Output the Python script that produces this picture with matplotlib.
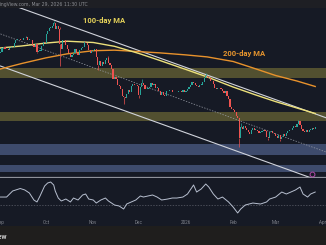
import numpy as np
import pandas as pd
import matplotlib
matplotlib.use("Agg")
import matplotlib.pyplot as plt
import matplotlib.dates as mdates
from matplotlib.patches import Rectangle

plt.rcParams['font.family'] = ['Roboto', 'DejaVu Sans']

# BTC/USD daily closes, thousands of USD
close_sep = [109.2, 111.2, 111.7, 110.7, 110.6, 110.2, 111.1, 112.0, 111.5, 113.9,
             115.5, 116.0, 115.9, 115.3, 115.4, 116.8, 116.5, 117.1, 115.7, 115.7,
             115.3, 112.7, 112.0, 113.3, 109.0, 109.7, 109.7, 112.2, 114.3, 114.0]
close_oct = [118.6, 120.6, 122.3, 122.4, 123.5, 124.8, 121.4, 123.3, 121.7, 113.2,
             110.6, 115.3, 115.3, 113.1, 110.8, 108.2, 106.5, 107.2, 108.6, 110.6,
             108.4, 107.6, 110.1, 111.0, 111.6, 114.5, 114.1, 112.9, 110.1, 108.3, 109.6]
close_nov = [110.1, 110.6, 106.5, 101.6, 103.9, 101.3, 103.4, 102.3, 104.7, 105.9,
             103.1, 101.6, 99.7, 94.4, 95.5, 94.2, 91.0, 90.5, 88.5, 85.0,
             84.5, 84.0, 86.0, 88.3, 87.3, 90.5, 91.3, 90.9, 90.8, 90.4]
close_dec = [85.5, 90.0, 92.0, 91.0, 88.5, 88.5, 89.5, 90.0, 92.0, 91.0,
             91.5, 89.5, 89.5, 87.5, 85.5, 87.0, 85.5, 85.0, 87.5, 87.5,
             88.0, 88.0, 87.0, 87.0, 86.8, 87.0, 87.5, 87.5, 86.8, 88.0, 87.2]
close_jan = [87.5, 88.5, 90.0, 91.0, 92.5, 92.0, 91.0, 90.5, 90.0, 91.0,
             91.0, 92.5, 95.0, 96.0, 95.5, 94.5, 93.0, 93.0, 91.5, 89.0,
             88.5, 89.5, 89.0, 88.5, 87.5, 86.5, 87.5, 85.0, 83.0, 79.0, 77.5]
close_feb = [77.0, 76.0, 74.0, 73.0, 62.0, 68.0, 67.0, 68.5, 67.5, 66.0,
             65.0, 64.0, 66.5, 67.5, 66.5, 66.5, 65.5, 64.5, 65.0, 65.5,
             66.0, 65.5, 62.5, 62.0, 65.0, 65.5, 64.5, 64.0]
close_mar = [63.0, 62.0, 63.5, 61.5, 62.5, 64.0, 63.0, 64.5, 65.5, 66.5,
             66.0, 67.5, 68.5, 68.0, 69.5, 71.0, 69.0, 67.0, 65.5, 65.0,
             66.0, 65.0, 66.5, 66.5, 67.5, 67.0, 67.8]
first_open = 108.3

wick_high = {"2025-09-18": 117.9, "2025-10-06": 126.2, "2025-10-10": 122.5,
             "2025-11-11": 107.0, "2025-12-03": 94.0, "2026-01-14": 97.5,
             "2026-02-06": 70.0, "2026-03-16": 72.0}
wick_low = {"2025-09-25": 108.5, "2025-10-10": 101.5, "2025-11-04": 99.0,
            "2025-11-21": 80.5, "2025-12-01": 83.8, "2026-02-05": 57.0,
            "2026-02-24": 61.0, "2026-03-04": 60.0}

# moving averages
ma_dates = ["2025-09-01", "2025-09-15", "2025-10-01", "2025-10-15", "2025-11-01",
            "2025-11-15", "2025-12-01", "2025-12-15", "2026-01-01", "2026-01-15",
            "2026-02-01", "2026-02-15", "2026-03-01", "2026-03-15", "2026-03-27"]
ma100 = [111.2, 112.3, 113.9, 114.9, 114.2, 112.1, 108.2, 104.3, 99.4, 95.3,
         89.8, 85.7, 81.8, 78.3, 75.3]
ma200 = [99.7, 102.7, 105.8, 108.0, 109.7, 110.0, 109.2, 108.5, 107.4, 106.3,
         103.8, 100.0, 96.1, 93.1, 90.1]

# descending channel
chan_dates = ["2025-09-01", "2026-04-03"]
chan_upper = [137.0, 73.0]
chan_mid = [118.9, 54.2]
chan_lower = [101.3, 37.1]

olive_zones = [(94.8, 100.2), (71.2, 76.1)]
blue_zones = [(52.6, 58.6), (43.2, 47.1)]

# RSI(14), days after Sep 1
rsi_day = [0, 4, 8, 13, 16, 19, 22, 24, 26, 29, 31, 33, 35, 36, 38, 40, 43, 46, 48, 51,
           54, 56, 58, 61, 63, 66, 69, 71, 75, 78, 81, 83, 86, 89, 92, 94, 97, 100, 103, 106,
           110, 113, 116, 120, 123, 127, 129, 132, 135, 137, 140, 143, 146, 150, 153, 156,
           158, 161, 166, 171, 175, 177, 181, 185, 188, 191, 194, 197, 199, 202, 204, 207]
rsi_val = [44.5, 44.5, 55.5, 60, 57.3, 51.8, 39, 35.5, 46.4, 64.5, 70, 71.8, 66.4, 55.5,
           42.7, 37.3, 40.9, 35.5, 42.7, 39.1, 48.2, 50, 40.9, 39.1, 33.6, 39.1, 42.7, 37.3,
           30, 28.2, 22.7, 31.8, 35.5, 39.1, 46.4, 44.5, 46.4, 48.2, 44.5, 39.1, 40.9, 42.7,
           42.7, 44.5, 50, 66.4, 53.6, 59.1, 68.2, 62.7, 50, 40.9, 44.5, 35.5, 26.4, 15.5,
           22.7, 30, 33.6, 31.8, 35.5, 40.9, 44.5, 53.6, 50, 53.6, 57.3, 62.7, 50, 44.5,
           50, 53.6]

month_ticks = ["2025-09-01", "2025-10-01", "2025-11-01", "2025-12-01",
               "2026-01-01", "2026-02-01", "2026-03-01", "2026-04-01"]
month_labels = ["Sep", "Oct", "Nov", "Dec", "2026", "Feb", "Mar", "Apr"]

BG = '#161a25'
UP, DOWN = '#26a69a', '#ef5350'

closes = close_sep + close_oct + close_nov + close_dec + close_jan + close_feb + close_mar
days = pd.date_range("2025-09-01", periods=len(closes), freq="D")
opens = np.array([first_open] + closes[:-1])
closes = np.array(closes)
colors = np.where(closes >= opens, UP, DOWN)

W, H = 326, 245
fig = plt.figure(figsize=(W / 100, H / 100), dpi=100, facecolor=BG)


def px_axes(top, bottom):
    a = fig.add_axes([0, 1 - bottom / H, 1, (bottom - top) / H])
    a.set_facecolor(BG)
    for s in a.spines.values():
        s.set_visible(False)
    return a


ax = px_axes(8, 177)
ax_rsi = px_axes(178, 217)

t0 = mdates.date2num(pd.Timestamp("2025-09-01"))
for a in (ax, ax_rsi):
    a.set_xlim(t0 - 0.33, t0 + 214.1)

ax.set_ylim(40.5, 133.1)
ax.set_xticks([])
ax.set_yticks([])
ax.spines['bottom'].set_visible(True)
ax.spines['bottom'].set_color('#8e919a')
ax.spines['bottom'].set_linewidth(0.9)

for lo, hi in olive_zones:
    ax.axhspan(lo, hi, color='#525030', lw=0, zorder=1)
for lo, hi in blue_zones:
    ax.axhspan(lo, hi, color='#3e4b6c', lw=0, zorder=1)

cd = pd.to_datetime(chan_dates)
ax.plot(cd, chan_upper, color='#d1d4dc', lw=0.8, zorder=3)
ax.plot(cd, chan_lower, color='#d1d4dc', lw=0.8, zorder=3)
ax.plot(cd, chan_mid, color='#9a9ea8', lw=0.5, dashes=(2, 2), zorder=3)

md = pd.to_datetime(ma_dates)
ax.plot(md, ma200, color='#e8922c', lw=1.0, zorder=3)
ax.plot(md, ma100, color='#ece07a', lw=1.0, zorder=3)

# candles
body_lo = np.minimum(opens, closes)
body_h = np.maximum(np.abs(closes - opens), 0.2)
ax.bar(days, body_h, bottom=body_lo, width=0.75, color=colors, linewidth=0, zorder=4)
for d, hi in wick_high.items():
    i = days.get_loc(pd.Timestamp(d))
    ax.vlines(days[i], max(opens[i], closes[i]), hi, color=colors[i], lw=0.5, zorder=4)
for d, lo in wick_low.items():
    i = days.get_loc(pd.Timestamp(d))
    ax.vlines(days[i], lo, min(opens[i], closes[i]), color=colors[i], lw=0.5, zorder=4)

ax.text(mdates.date2num(pd.Timestamp("2025-11-08")), 126.0, "100-day MA",
        color='#e6d35a', fontsize=5.5, fontweight='bold', ha='center', va='center')
ax.text(mdates.date2num(pd.Timestamp("2026-02-08 12:00")), 107.9, "200-day MA",
        color='#e8962e', fontsize=5.5, fontweight='bold', ha='center', va='center')

ax.plot(mdates.date2num(pd.Timestamp("2026-03-25")), 42.3, 'o', ms=3.5,
        mfc='none', mec='#b04aa8', mew=0.7, zorder=5)

# RSI pane
ax_rsi.set_ylim(8.2, 79.1)
ax_rsi.set_yticks([])
ax_rsi.axhline(30, color='#5d606b', lw=0.5, dashes=(2, 2))
rd = pd.Timestamp("2025-09-01") + pd.to_timedelta(rsi_day, unit='D')
ax_rsi.plot(rd, rsi_val, color='#b8c0d0', lw=0.7)
ax_rsi.set_xticks(pd.to_datetime(month_ticks))
ax_rsi.set_xticklabels(month_labels)
ax_rsi.tick_params(axis='x', length=0, pad=2.0, labelsize=3.3, labelcolor='#80838c')

# header strip and footer band
fig.add_artist(Rectangle((0, 1 - 8 / H), 1, 8 / H, transform=fig.transFigure,
                         color='#1e1f24', lw=0, zorder=-1))
fig.add_artist(Rectangle((0, 0), 1, 19 / H, transform=fig.transFigure,
                         color='#1f1e1d', lw=0, zorder=-1))
fig.text(-10 / W, 1 - 4.5 / H, "TradingView.com, Mar 29, 2026 11:30 UTC",
         fontsize=3.3, color='#8b8d93', ha='left', va='center', family='DejaVu Sans')
fig.text(7 / W, 1 - 237 / H, "TradingView", fontsize=5.0, fontweight='bold',
         color='#d0d0d0', ha='right', va='center')

fig.savefig("out.png", dpi=100, facecolor=fig.get_facecolor())
